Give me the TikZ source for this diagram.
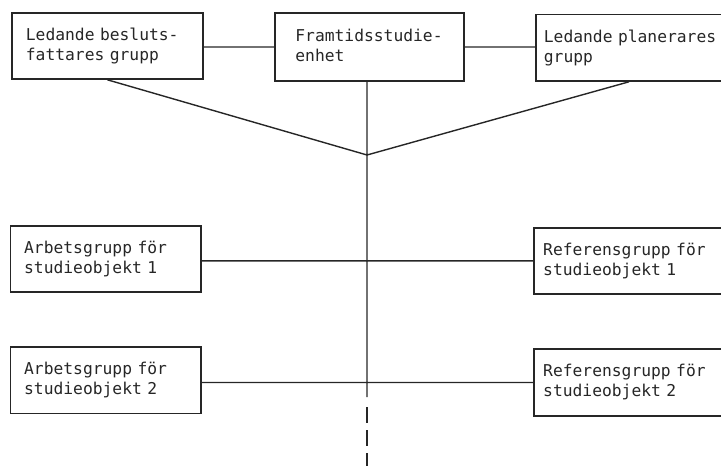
\documentclass[tikz,border=0pt]{standalone}
\usepackage{fontspec}
\setmonofont{DejaVu Sans Mono}
\usetikzlibrary{calc}

\tikzset{
	box/.style = {draw, line width = 1.8pt, inner sep = 0pt, anchor = north west, align = left,
		minimum height = 66.5pt, font = \ttfamily\fontsize{16.3}{20}\selectfont},
	link/.style = {line width = 1.4pt}
}

\begin{document}
\begin{tikzpicture}[x = 1pt, y = -1pt, color = black!85]
	\useasboundingbox (0,0) rectangle (721,466);
	\clip (0,0) rectangle (721,466);
	% top row
	\node[box, minimum width = 191pt, minimum height = 66pt, text width = 163pt] (beslut) at (11,12) {Ledande besluts-\\fattares grupp};
	\node[box, minimum width = 189pt, minimum height = 67.5pt, text width = 148pt] (framtid) at (274,12.3) {Framtidsstudie-\\enhet\vphantom{g}};
	\node[box, minimum width = 210pt, text width = 194pt] (planer) at (535,13.5) {Ledande planerares\\grupp};
	% study objects
	\node[box, minimum width = 190.5pt, minimum height = 66pt, text width = 163pt] (arbete1) at (9.5,225) {Arbetsgrupp för\\studieobjekt 1};
	\node[box, minimum width = 210pt, text width = 192pt] (ref1) at (533.3,226.7) {Referensgrupp för\\studieobjekt 1};
	\node[box, minimum width = 190.5pt, text width = 163pt] (arbete2) at (9.5,346) {Arbetsgrupp för\\studieobjekt 2};
	\node[box, minimum width = 210pt, text width = 192pt] (ref2) at (533.3,348.3) {Referensgrupp för\\studieobjekt 2};
	\coordinate (V) at (367,155);
	\coordinate (solid) at (367,397);
	\coordinate (dashtop) at (367,407);
	\coordinate (bottom) at (367,470);
	\draw[link]
	(framtid.west) -- (framtid.west -| beslut.east)
	(framtid.east) -- (framtid.east -| planer.west)
	(framtid.south -| V) -- (solid)
	(beslut.south) -- (V) -- ($(planer.south west)+(94,0)$)
	(ref1.west) -- (ref1.west -| arbete1.east)
	(ref2.west) -- (ref2.west -| arbete2.east);
	\draw[link, dash pattern = on 16pt off 7pt] (dashtop) -- (bottom);
\end{tikzpicture}
\end{document}
